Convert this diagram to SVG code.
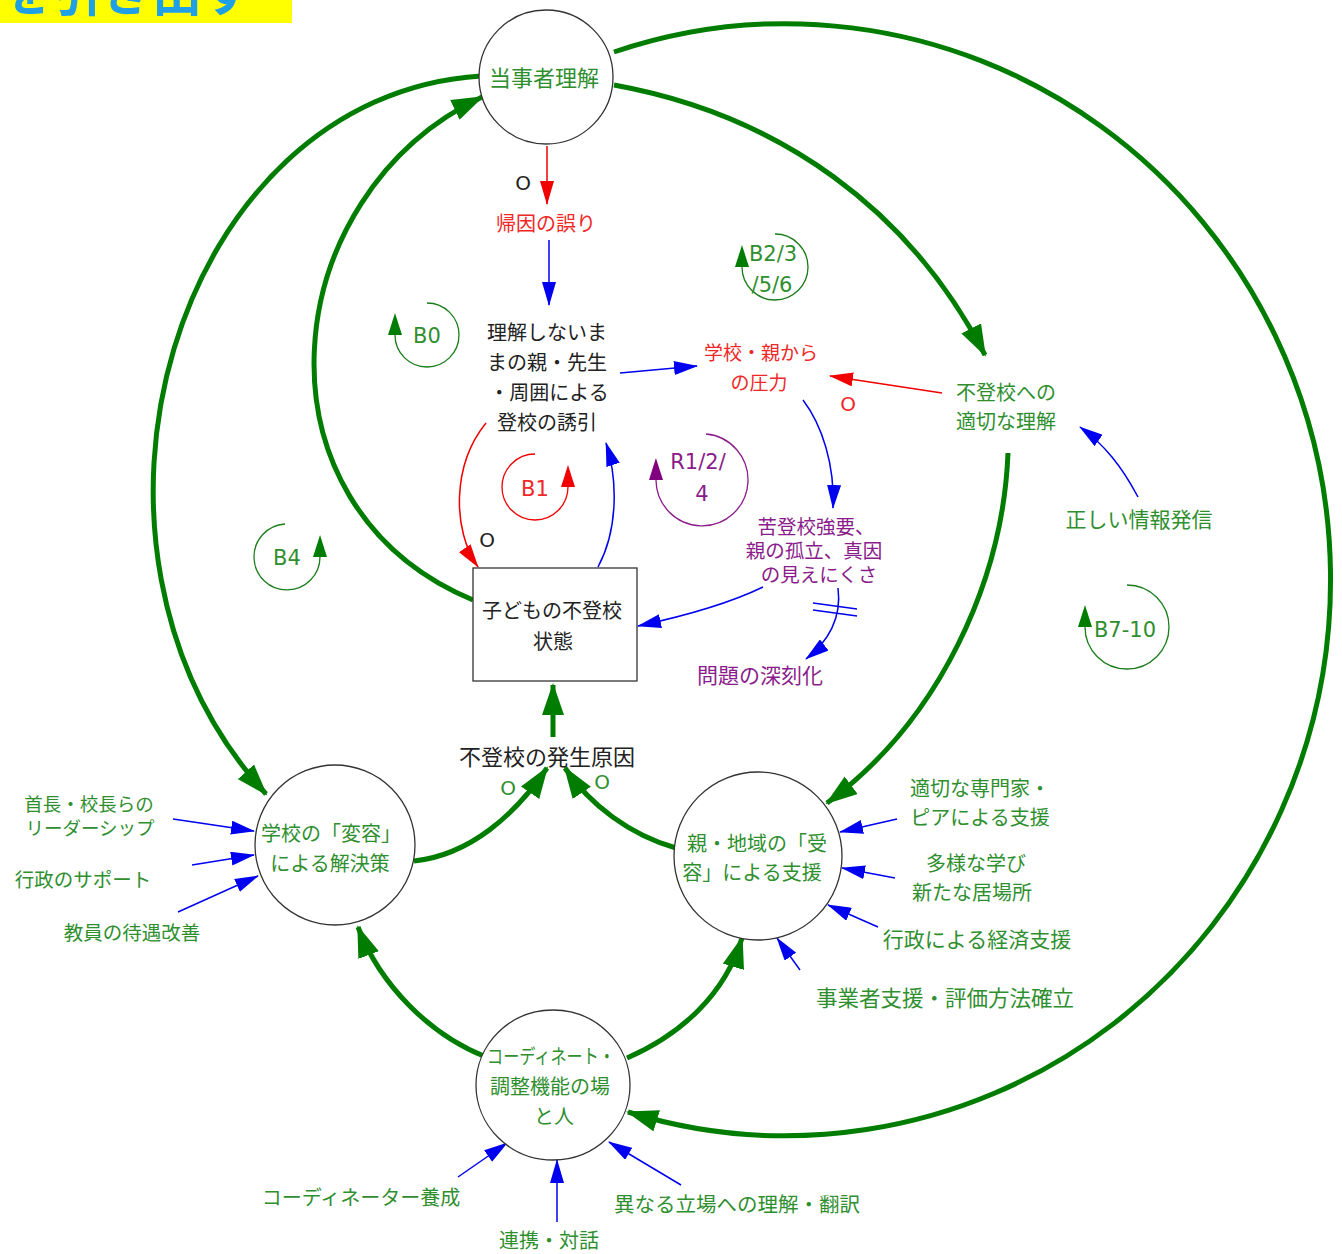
<svg xmlns="http://www.w3.org/2000/svg" width="1342" height="1254" viewBox="0 0 1342 1254">
<defs>
<style>
text{font-family:"Noto Sans CJK JP","Noto Sans CJK SC",sans-serif;font-size:20px;text-anchor:middle}
.g{fill:#2f8f2f}.k{fill:#222}.r{fill:#f02828}.p{fill:#8b1c8b}
.lat{font-family:"DejaVu Sans",sans-serif;font-size:21px}
.o{font-family:"DejaVu Sans",sans-serif;font-size:20px}
.node{fill:#fff;stroke:#333;stroke-width:1.3}
.gl{fill:none;stroke:#007d00;stroke-width:5;marker-end:url(#ag)}
.bl{fill:none;stroke:#0000f0;stroke-width:1.5;marker-end:url(#ab)}
.rl{fill:none;stroke:#f00000;stroke-width:1.5;marker-end:url(#ar)}
.lg{fill:none;stroke:#1a7d1a;stroke-width:1.3;marker-end:url(#mlg)}
.lr{fill:none;stroke:#f00000;stroke-width:1.3;marker-end:url(#mlr)}
.lp{fill:none;stroke:#8b1c8b;stroke-width:1.3;marker-end:url(#mlp)}
</style>
<marker id="ag" markerUnits="userSpaceOnUse" markerWidth="32" markerHeight="22" viewBox="0 0 32 22" refX="30" refY="11" orient="auto"><path d="M0,0 L32,11 L0,22 z" fill="#007d00"/></marker>
<marker id="ab" markerUnits="userSpaceOnUse" markerWidth="24" markerHeight="14" viewBox="0 0 24 14" refX="23" refY="7" orient="auto"><path d="M0,0 L24,7 L0,14 z" fill="#0000f0"/></marker>
<marker id="ar" markerUnits="userSpaceOnUse" markerWidth="24" markerHeight="14" viewBox="0 0 24 14" refX="23" refY="7" orient="auto"><path d="M0,0 L24,7 L0,14 z" fill="#f00000"/></marker>
<marker id="mlg" markerUnits="userSpaceOnUse" markerWidth="22" markerHeight="14" viewBox="0 0 22 14" refX="0" refY="7" orient="auto"><path d="M0,0 L22,7 L0,14 z" fill="#007d00"/></marker>
<marker id="mlr" markerUnits="userSpaceOnUse" markerWidth="22" markerHeight="14" viewBox="0 0 22 14" refX="0" refY="7" orient="auto"><path d="M0,0 L22,7 L0,14 z" fill="#f00000"/></marker>
<marker id="mlp" markerUnits="userSpaceOnUse" markerWidth="22" markerHeight="14" viewBox="0 0 22 14" refX="0" refY="7" orient="auto"><path d="M0,0 L22,7 L0,14 z" fill="#800080"/></marker>
</defs>
<rect width="1342" height="1254" fill="#fff"/>
<g id="header">
<rect x="0" y="0" width="292" height="23" fill="#ffff00"/>
<text x="2" y="11" style="font-size:50px;font-weight:bold;text-anchor:start;fill:#1fa0e6">を引き出す</text>
</g>
<g id="connectors">
<path class="gl" d="M614,52 A545,556 0 1 1 628,1112"/>
<path class="gl" d="M481,76 C175,95 40,545 266,794"/>
<path class="gl" d="M473,600 C245,505 275,195 482,97"/>
<path class="gl" d="M614,85 C780,115 910,210 985,355"/>
<path class="gl" d="M1008,453 C1003,580 940,720 827,803"/>
<path class="gl" d="M414,861 C470,855 515,815 547,768"/>
<path class="gl" d="M676,848 C630,835 590,805 565,768"/>
<path class="gl" d="M553,737 L553,685"/>
<path class="gl" d="M486,1057 C430,1035 380,985 358,927"/>
<path class="gl" d="M627,1058 C680,1035 725,995 742,938"/>
<path class="rl" d="M547,146 L547,204"/>
<path class="bl" d="M549,240 L549,305"/>
<path class="bl" d="M620,373 L697,366"/>
<path class="rl" d="M942,393 L830,376"/>
<path class="bl" d="M803,400 C822,425 835,465 833,508"/>
<path class="bl" d="M763,587 C730,603 680,617 638,626"/>
<path class="bl" d="M838,588 C842,618 828,642 806,659"/>
<path class="bl" d="M598,567 C618,530 618,480 606,443"/>
<path class="rl" d="M486,423 C452,465 452,530 478,567"/>
<path class="bl" d="M1138,497 C1122,467 1105,445 1080,427"/>
<path class="bl" d="M173,819 L254,831"/>
<path class="bl" d="M192,865 L254,855"/>
<path class="bl" d="M178,912 L258,876"/>
<path class="bl" d="M897,819 L840,832"/>
<path class="bl" d="M895,878 L842,868"/>
<path class="bl" d="M878,927 L828,905"/>
<path class="bl" d="M800,970 L777,938"/>
<path class="bl" d="M458,1177 L507,1143"/>
<path class="bl" d="M557,1222 L557,1160"/>
<path class="bl" d="M681,1185 L609,1142"/>
<path d="M813,603 L857,609 M813,610 L857,616" stroke="#0000f0" stroke-width="1.5" fill="none"/>
</g>
<g id="loops">
<path class="lg" d="M427,303 A32,32 0 1 1 395,335"/>
<text class="lat g" x="427" y="343">B0</text>
<path class="lg" d="M775,234 A33,33 0 1 1 742,267"/>
<text class="lat g" x="773" y="261">B2/3</text>
<text class="lat g" x="772" y="292">/5/6</text>
<path class="lr" d="M535,454 A33,33 0 1 0 568,487"/>
<text class="lat r" x="535" y="496">B1</text>
<path class="lp" d="M706,434 A46,46 0 1 1 656,480"/>
<text class="lat p" x="698" y="469">R1/2/</text>
<text class="lat p" x="702" y="501">4</text>
<path class="lg" d="M285,524 A33,33 0 1 0 320,557"/>
<text class="lat g" x="287" y="565">B4</text>
<path class="lg" d="M1127,585 A42,42 0 1 1 1085,627"/>
<text class="lat g" x="1125" y="637">B7-10</text>
</g>
<g id="polarity">
<text class="o k" x="523" y="190">O</text>
<text class="o k" x="487" y="547">O</text>
<text class="o r" x="848" y="411">O</text>
<text class="o g" x="508" y="795">O</text>
<text class="o g" x="602" y="789">O</text>
</g>
<g id="n-touji">
<circle class="node" cx="546" cy="77" r="67"/>
<text class="g" x="544" y="86" style="font-size:22px">当事者理解</text>
</g>
<g id="n-kiin"><text class="r" x="546" y="231">帰因の誤り</text></g>
<g id="n-yuuin">
<text class="k" x="547" y="340">理解しないま</text>
<text class="k" x="547" y="370">まの親・先生</text>
<text class="k" x="549" y="400">・周囲による</text>
<text class="k" x="547" y="430">登校の誘引</text>
</g>
<g id="n-atsuryoku">
<text class="r" x="761" y="360" style="font-size:19px">学校・親から</text>
<text class="r" x="759" y="390" style="font-size:19px">の圧力</text>
</g>
<g id="n-tekisetsu">
<text class="g" x="1006" y="400">不登校への</text>
<text class="g" x="1006" y="429">適切な理解</text>
</g>
<g id="n-joho"><text class="g" x="1139" y="527" style="font-size:21px">正しい情報発信</text></g>
<g id="n-ku">
<text class="p" x="816" y="534" style="font-size:19.5px">苦登校強要、</text>
<text class="p" x="814" y="558" style="font-size:19.5px">親の孤立、真因</text>
<text class="p" x="819" y="582" style="font-size:19.5px">の見えにくさ</text>
</g>
<g id="n-shinkoku"><text class="p" x="760" y="683" style="font-size:21px">問題の深刻化</text></g>
<g id="n-kodomo">
<rect class="node" x="473" y="568" width="164" height="113"/>
<text class="k" x="552" y="618">子どもの不登校</text>
<text class="k" x="553" y="649">状態</text>
</g>
<g id="n-genin"><text class="k" x="547" y="765" style="font-size:22px">不登校の発生原因</text></g>
<g id="n-henyou">
<circle class="node" cx="335" cy="845" r="80"/>
<text class="g" x="331" y="841">学校の「変容」</text>
<text class="g" x="330" y="871">による解決策</text>
</g>
<g id="n-juyou">
<circle class="node" cx="758" cy="856" r="84"/>
<text class="g" x="757" y="851">親・地域の「受</text>
<text class="g" x="752" y="880">容」による支援</text>
</g>
<g id="n-coord">
<ellipse class="node" cx="553" cy="1085" rx="77" ry="75"/>
<text class="g" x="551" y="1064" textLength="128" lengthAdjust="spacingAndGlyphs">コーディネート・</text>
<text class="g" x="550" y="1094">調整機能の場</text>
<text class="g" x="554" y="1124">と人</text>
</g>
<g id="inputs">
<text class="g" x="89" y="811" style="font-size:18.5px">首長・校長らの</text>
<text class="g" x="90" y="835" style="font-size:18.5px">リーダーシップ</text>
<text class="g" x="83" y="887" style="font-size:19.5px">行政のサポート</text>
<text class="g" x="132" y="940" style="font-size:19.5px">教員の待遇改善</text>
<text class="g" x="980" y="796" style="font-size:20px">適切な専門家・</text>
<text class="g" x="980" y="825" style="font-size:20px">ピアによる支援</text>
<text class="g" x="976" y="871" style="font-size:20px">多様な学び</text>
<text class="g" x="972" y="900" style="font-size:20px">新たな居場所</text>
<text class="g" x="977" y="947" style="font-size:21px">行政による経済支援</text>
<text class="g" x="945" y="1006" style="font-size:21.5px">事業者支援・評価方法確立</text>
<text class="g" x="361" y="1205">コーディネーター養成</text>
<text class="g" x="549" y="1248">連携・対話</text>
<text class="g" x="737" y="1212" style="font-size:20.5px">異なる立場への理解・翻訳</text>
</g>
</svg>
